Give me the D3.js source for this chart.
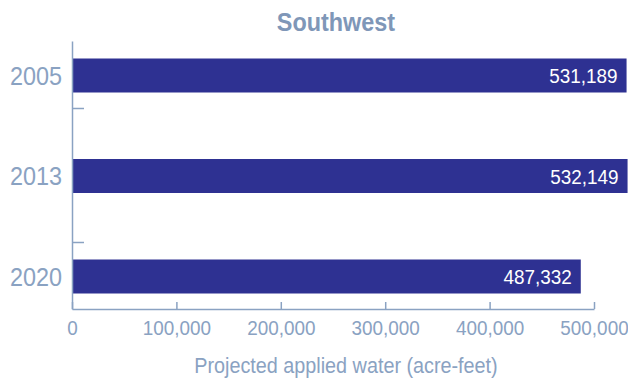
<!DOCTYPE html>
<html>
<head>
<meta charset="utf-8">
<script src="https://cdn.jsdelivr.net/npm/d3@7"></script>
<style>
  body { margin: 0; background: #fff; }
  text { font-family: "Liberation Sans", Arial, sans-serif; }
  /* letra estrecha: se aprieta en horizontal */
  .narrow-mid { transform-box: fill-box; transform-origin: center; transform: scaleX(0.9); }
  .narrow-end { transform-box: fill-box; transform-origin: right center; transform: scaleX(0.9); }
</style>
</head>
<body>
<div id="grafico"></div>
<script>
// datos
const years = ["2005", "2013", "2020"];
const water = [531189, 532149, 487332];
const xTicks = [0, 100000, 200000, 300000, 400000, 500000];
const yTicks = [1, 3]; // marcas sueltas del eje y

const width = 628;
const height = 379;
const light = "#8aa2c2";

const svg = d3.select("#grafico")
    .append("svg")
    .attr("width", width)
    .attr("height", height);

// escala x
const xScale = d3.scaleLinear()
    .domain([0, 500000])
    .range([72, 594]);

// eje y en 4 tramos, las barras entre los extremos
const yLin = d3.scaleLinear()
    .domain([0, 4])
    .range([41, 309]);

const yScale = d3.scalePoint()
    .domain(years)
    .range([yLin(0.5) + 1, yLin(3.5) + 1]);

const barH = 34;

// titulo
svg.append("text")
    .attr("class", "narrow-mid")
    .attr("x", 336)
    .attr("y", 31)
    .attr("text-anchor", "middle")
    .attr("fill", "#7f97b8")
    .style("font-size", "26px")
    .style("font-weight", "bold")
    .text("Southwest");

// barras
svg.selectAll("rect.bar")
    .data(years)
    .enter()
    .append("rect")
    .attr("class", "bar")
    .attr("x", xScale(0))
    .attr("y", d => yScale(d) - barH / 2)
    .attr("width", (d, i) => xScale(water[i]) - xScale(0))
    .attr("height", barH)
    .attr("fill", "#2e3192");

// valores
svg.selectAll("text.val")
    .data(years)
    .enter()
    .append("text")
    .attr("class", "val narrow-end")
    .attr("x", (d, i) => Math.min(xScale(water[i]), width) - 9)
    .attr("y", d => yScale(d))
    .attr("dy", "0.36em")
    .attr("text-anchor", "end")
    .attr("fill", "#fff")
    .style("font-size", "21px")
    .text((d, i) => d3.format(",")(water[i]));

// eje y
const yAxis = d3.axisLeft(yLin)
    .tickValues(yTicks)
    .tickSize(-12)
    .tickSizeOuter(0)
    .tickFormat("");

const gy = svg.append("g")
    .attr("transform", `translate(${xScale(0)}, 0)`)
    .call(yAxis);
gy.selectAll("path, line").attr("stroke", light).attr("stroke-width", 1.5);

// etiquetas de años
svg.selectAll("text.year")
    .data(years)
    .enter()
    .append("text")
    .attr("class", "year narrow-end")
    .attr("x", 62)
    .attr("y", d => yScale(d))
    .attr("dy", "0.36em")
    .attr("text-anchor", "end")
    .attr("fill", light)
    .style("font-size", "26px")
    .text(d => d);

// eje x
const xAxis = d3.axisBottom(xScale)
    .tickValues(xTicks)
    .tickSize(-7)
    .tickSizeOuter(0)
    .tickPadding(11)
    .tickFormat(d3.format(","));

const gx = svg.append("g")
    .attr("transform", `translate(0, ${yLin(4)})`)
    .call(xAxis);
gx.selectAll("path, line").attr("stroke", light).attr("stroke-width", 1.5);
gx.selectAll("text")
    .attr("class", "narrow-mid")
    .attr("fill", light)
    .style("font-size", "21px")
    .style("font-family", "'Liberation Sans', Arial, sans-serif");

// titulo eje x
svg.append("text")
    .attr("class", "narrow-mid")
    .attr("x", 346)
    .attr("y", 373)
    .attr("text-anchor", "middle")
    .attr("fill", light)
    .style("font-size", "22px")
    .text("Projected applied water (acre-feet)");
</script>
</body>
</html>
